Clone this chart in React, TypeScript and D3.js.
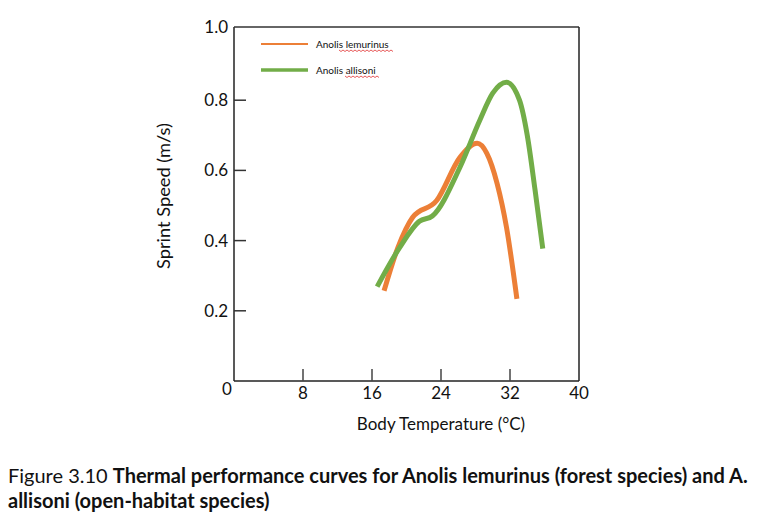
import React from 'react';
import * as d3 from 'd3';

// values
const xTicks = [8, 16, 24, 32, 40];
const yTicks = [0.2, 0.4, 0.6, 0.8];
const lemurinusTemp = [17.4, 19.0, 20.7, 23.5, 26.2, 28.2, 29.3, 30.5, 31.6, 32.8];
const lemurinusSpeed = [0.257, 0.38, 0.466, 0.514, 0.637, 0.677, 0.649, 0.563, 0.437, 0.234];
const allisoniTemp = [16.6, 19.2, 21.5, 23.0, 26.2, 28.5, 30.0, 31.6, 33.1, 34.0, 34.9, 35.8];
const allisoniSpeed = [0.269, 0.38, 0.455, 0.47, 0.609, 0.743, 0.82, 0.851, 0.8, 0.70, 0.545, 0.377];

const ORANGE = '#EC7F37';
const GREEN = '#72AD48';
const FONT = 'Lato, "Open Sans", sans-serif';

// red spell-check underline under a word
const squiggle = (x0: number, x1: number, y: number) => {
  let d = `M${x0},${y}`;
  for (let x = x0, i = 0; x < x1; x += 2, i++) d += ` L${x + 2},${y + (i % 2 ? 0 : 1.5)}`;
  return d;
};

export default function App() {
  const margin = { top: 27, right: 181, bottom: 139, left: 234 };
  const width = 760, height = 520;

  const x = d3.scaleLinear().domain([0, 40]).range([margin.left, width - margin.right]);
  const y = d3.scaleLinear().domain([0, 1]).range([height - margin.bottom, 30]);

  const line = d3.line<[number, number]>()
    .x(d => x(d[0]))
    .y(d => y(d[1]))
    .curve(d3.curveMonotoneX);

  const lemurinus = lemurinusTemp.map((t, i) => [t, lemurinusSpeed[i]] as [number, number]);
  const allisoni = allisoniTemp.map((t, i) => [t, allisoniSpeed[i]] as [number, number]);

  const x0 = x(0), x1 = x(40), yb = y(0), yt = margin.top;

  return (
    <svg width={width} height={height} style={{ position: 'absolute', left: 0, top: 0 }} fontFamily={FONT}>
      {/* frame */}
      <line x1={x0} x2={x1} y1={yb} y2={yb} stroke="#222" strokeWidth={1.5} />
      <line x1={x0} x2={x0} y1={yt} y2={yb} stroke="#222" strokeWidth={1.5} />
      <line x1={x0} x2={x1} y1={yt} y2={yt} stroke="#333" strokeWidth={1.5} />
      <line x1={x1} x2={x1} y1={yt} y2={yb} stroke="#222" strokeWidth={1.5} />

      {/* x ticks */}
      {xTicks.map(t => (
        <g key={t}>
          {t < 40 && <line x1={x(t)} x2={x(t)} y1={yb} y2={yb - 12} stroke="#444" strokeWidth={1.5} />}
          <text x={x(t)} y={yb + 18} textAnchor="middle" fontSize={17} fill="#111">{t}</text>
        </g>
      ))}
      <text x={x0 - 7} y={yb + 14} textAnchor="middle" fontSize={17} fill="#111">0</text>

      {/* y ticks */}
      {yTicks.map(t => (
        <g key={t}>
          <line x1={x0} x2={x0 + 12} y1={y(t)} y2={y(t)} stroke="#333" strokeWidth={1.5} />
          <text x={x0 - 6} y={y(t)} dy="0.35em" textAnchor="end" fontSize={17} fill="#111">{t.toFixed(1)}</text>
        </g>
      ))}
      <text x={x0 - 6} y={yt} dy="0.35em" textAnchor="end" fontSize={17} fill="#111">1.0</text>

      {/* axis titles */}
      <text transform={`translate(170,196) rotate(-90)`} textAnchor="middle" fontSize={17} fill="#111"
        textLength={146} lengthAdjust="spacingAndGlyphs">Sprint Speed (m/s)</text>
      <text x={441} y={430} textAnchor="middle" fontSize={17} fill="#111">Body Temperature (°C)</text>

      {/* curves */}
      <path d={line(lemurinus) || ''} fill="none" stroke={ORANGE} strokeWidth={5} />
      <path d={line(allisoni) || ''} fill="none" stroke={GREEN} strokeWidth={5} />

      {/* legend */}
      <line x1={261} x2={308} y1={44} y2={44} stroke={ORANGE} strokeWidth={2} />
      <text x={316} y={47.5} fontSize={10} fill="#111">Anolis lemurinus</text>
      <path d={squiggle(339, 392, 50)} fill="none" stroke="#e03030" strokeWidth={0.8} />
      <line x1={261} x2={308} y1={70} y2={70} stroke={GREEN} strokeWidth={3.5} />
      <text x={316} y={73.5} fontSize={10} fill="#111">Anolis allisoni</text>
      <path d={squiggle(345, 378, 76)} fill="none" stroke="#e03030" strokeWidth={0.8} />

      {/* caption */}
      <text x={8} y={483} fontSize={20} fill="#111">
        Figure 3.10 <tspan fontWeight="bold">Thermal performance curves for Anolis lemurinus (forest species) and A.</tspan>
      </text>
      <text x={8} y={508} fontSize={20} fontWeight="bold" fill="#111">allisoni (open-habitat species)</text>
    </svg>
  );
}
